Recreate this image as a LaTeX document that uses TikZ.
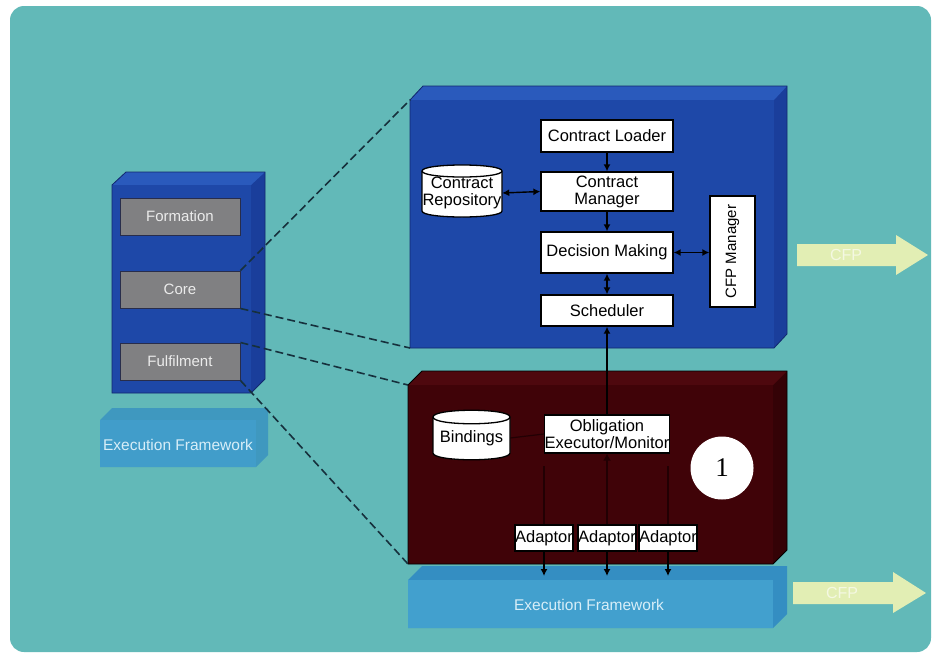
\documentclass[tikz,border=0pt]{standalone}
\usepackage{fontspec}
\setmainfont{Liberation Sans}
\newfontfamily\numfont{Liberation Serif}
\usetikzlibrary{arrows.meta}

\definecolor{bgteal}{RGB}{98,185,184}
\definecolor{blueface}{RGB}{30,72,168}
\definecolor{bluetop}{RGB}{42,90,188}
\definecolor{blueside}{RGB}{26,62,155}
\definecolor{blueedge}{RGB}{18,40,110}
\definecolor{darkface}{RGB}{64,3,8}
\definecolor{darktop}{RGB}{78,8,14}
\definecolor{darkside}{RGB}{52,2,6}
\definecolor{faintline}{RGB}{34,0,3}
\definecolor{efface}{RGB}{66,160,206}
\definecolor{eftop}{RGB}{52,142,194}
\definecolor{eftext}{RGB}{215,238,248}
\definecolor{graybox}{RGB}{128,128,130}
\definecolor{grayedge}{RGB}{40,45,75}
\definecolor{dashcol}{RGB}{22,48,60}
\definecolor{cfpfill}{RGB}{226,238,180}
\definecolor{cfptext}{RGB}{244,248,226}

\begin{document}
\begin{tikzpicture}[x=1pt,y=-1pt,
  txt/.style={font=\fontsize{16.5}{17}\selectfont, align=center, inner sep=0pt},
  wbox/.style={txt, draw=black, line width=1.3pt, fill=white, minimum width=132pt},
  gbox/.style={draw=grayedge, line width=1pt, fill=graybox, text=white!92!black,
    font=\fontsize{15}{17}\selectfont, minimum width=120pt, minimum height=37pt, inner sep=0pt},
  link/.style={draw=black, line width=1.4pt},
  arr/.style={link, -{Latex[length=7pt,width=7pt]}},
  darr/.style={link, {Latex[length=7pt,width=7pt]}-{Latex[length=7pt,width=7pt]}},
  faint/.style={draw=faintline, line width=1.2pt},
  zoomline/.style={draw=dashcol, line width=1.6pt, dash pattern=on 8pt off 4pt},
  eflabel/.style={text=eftext, font=\fontsize{15.5}{17}\selectfont, inner sep=0pt},
  cfplabel/.style={text=cfptext, font=\fontsize{16}{17}\selectfont, inner sep=0pt},
  cyl/.style={fill=white, draw=black, line width=1.3pt},
]
\useasboundingbox (0,0) rectangle (933,656);

% page and rounded panel
\fill[white] (0,0) rectangle (933,656);
\fill[bgteal, rounded corners=14pt] (10,6) rectangle (931,652);

% ---------- left layer stack ----------
\fill[blueside] (112,185)--(126,172)--(265,172)--(265,379)--(251,393)--(112,393)--cycle;
\fill[bluetop] (112,185)--(126,172)--(265,172)--(251,185)--cycle;
\fill[blueface] (112,185) rectangle (251,393);
\draw[blueedge, line width=0.8pt] (112,185)--(126,172)--(265,172)--(265,379)--(251,393)--(112,393)--cycle;

\node[gbox] (formation) at (180,216.5) {Formation};
\node[gbox] (core) at (180,289.5) {Core};
\node[gbox] (fulfil) at (180,361.5) {Fulfilment};

% left execution framework slab
\begin{scope}[opacity=0.75]
\fill[eftop] (100,420)--(112,408)--(268,408)--(268,455)--(256,467)--(100,467)--cycle;
\fill[efface] (100,420) rectangle (256,467);
\end{scope}
\node[eflabel] (efleft) at (178,445) {Execution Framework};

% ---------- core component (blue) ----------
\fill[blueside] (410,100)--(423,86)--(787,86)--(787,334)--(774,348)--(410,348)--cycle;
\fill[bluetop] (410,100)--(423,86)--(787,86)--(774,100)--cycle;
\fill[blueface] (410,100) rectangle (774,348);
\draw[blueedge, line width=0.8pt] (410,100)--(423,86)--(787,86)--(787,334)--(774,348)--(410,348)--cycle;

% ---------- fulfilment component (maroon) ----------
\fill[darkside] (408,385)--(422,371)--(787,371)--(787,550)--(773,564)--(408,564)--cycle;
\fill[darktop] (408,385)--(422,371)--(787,371)--(773,385)--cycle;
\fill[darkface] (408,385) rectangle (773,564);
\draw[black, line width=0.8pt] (408,385)--(422,371)--(787,371)--(787,550)--(773,564)--(408,564)--cycle;

% ---------- bottom execution framework slab ----------
\fill[eftop] (408,580)--(422,566)--(787,566)--(787,614)--(773,628)--(408,628)--cycle;
\fill[efface] (408,580) rectangle (773,628);
\node[eflabel] (efmain) at (589,605) {Execution Framework};
\coordinate (eftopline) at (600,576);

% ---------- zoom-out dashed lines ----------
\coordinate (coreTL) at (410,100);
\coordinate (coreBL) at (410,348);
\coordinate (fulTL) at (408,385);
\coordinate (fulBL) at (408,564);
\draw[zoomline] (core.north east) -- (coreTL);
\draw[zoomline] (core.south east) -- (coreBL);
\draw[zoomline] (fulfil.north east) -- (fulTL);
\draw[zoomline] (fulfil.south east) -- (fulBL);

% ---------- core internals ----------
\node[wbox, minimum height=32pt] (loader) at (607,136) {Contract Loader};
\node[wbox, minimum height=39pt] (manager) at (607,191.5) {Contract\\Manager};
\node[wbox, minimum height=41pt] (decision) at (607,252.5) {Decision Making};
\node[wbox, minimum height=31pt] (sched) at (607,310.5) {Scheduler};
\node[txt, draw=black, line width=1.3pt, fill=white, minimum width=45pt, minimum height=111pt] (cfpm) at (732.5,251.5) {};
\node[txt, rotate=90, font=\fontsize{15}{17}\selectfont] at (cfpm.center) {CFP Manager};

% contract repository cylinder
\draw[cyl] (422,171) -- (422,211) .. controls (422,219) and (502,219) .. (502,211)
  -- (502,171) .. controls (502,163) and (422,163) .. (422,171) -- cycle;
\draw[black, line width=1.3pt] (422,171) .. controls (422,179) and (502,179) .. (502,171);
\node[txt, minimum width=80pt, minimum height=40pt] (repo) at (462,193) {Contract\\Repository};

\draw[arr] (loader) -- (manager);
\draw[arr] (manager) -- (decision);
\draw[darr] (decision) -- (sched);
\draw[darr] (repo.east) -- (manager.west);
\draw[darr] (decision.east) -- (cfpm.west |- decision.east);

% ---------- fulfilment internals ----------
\draw[cyl] (433,417) -- (433,453) .. controls (433,462) and (510,462) .. (510,453)
  -- (510,417) .. controls (510,408) and (433,408) .. (433,417) -- cycle;
\draw[black, line width=1.3pt] (433,417) .. controls (433,426) and (510,426) .. (510,417);
\node[txt, minimum width=77pt, minimum height=36pt] (bind) at (471.5,438) {Bindings};

\node[wbox, minimum width=123pt, minimum height=38pt] (obl) at (607,434) {Obligation\\Executor/Monitor};
\node[circle, fill=white, minimum size=63pt, inner sep=0pt,
      font=\numfont\fontsize{27}{27}\selectfont] (one) at (722,468) {1};

\node[wbox, minimum width=58pt, minimum height=26pt] (ad1) at (544,538) {Adaptor};
\node[wbox, minimum width=58pt, minimum height=26pt] (ad2) at (607,538) {Adaptor};
\node[wbox, minimum width=58pt, minimum height=26pt] (ad3) at (668,538) {Adaptor};

\draw[arr] (obl.north) -- (sched.south);
\draw[faint] (bind.east) -- (obl.west);
\draw[faint, -{Latex[length=7pt,width=8pt]}] (ad2.north) -- (obl.south);
\draw[faint] (ad1.north) -- ++(0,-58);
\draw[faint] (ad3.north) -- ++(0,-58);

\draw[arr] (ad1.south) -- (ad1.south |- eftopline);
\draw[arr] (ad2.south) -- (ad2.south |- eftopline);
\draw[arr] (ad3.south) -- (ad3.south |- eftopline);

% ---------- CFP arrows ----------
\fill[cfpfill] (797,244)--(896,244)--(896,235)--(928,255)--(896,275)--(896,266)--(797,266)--cycle;
\node[cfplabel] (cfpup) at (846,255) {CFP};
\fill[cfpfill] (793,582)--(893,582)--(893,572)--(926,593)--(893,613)--(893,604)--(793,604)--cycle;
\node[cfplabel] (cfpdown) at (842,593) {CFP};

\end{tikzpicture}
\end{document}
